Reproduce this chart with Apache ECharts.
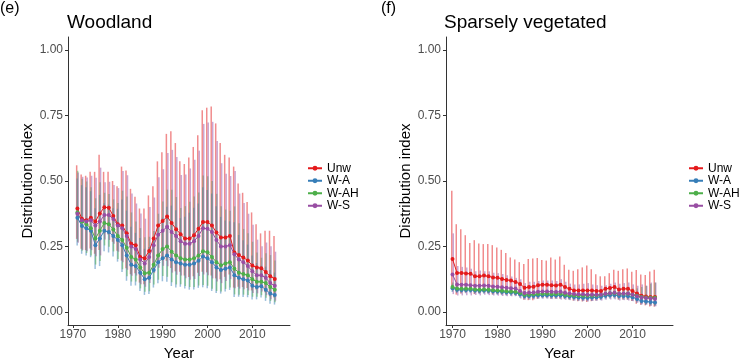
<!DOCTYPE html>
<html><head><meta charset="utf-8">
<script src="https://cdn.jsdelivr.net/npm/echarts@6/dist/echarts.min.js"></script>
<style>html,body{margin:0;padding:0;background:#fff}#c{width:741px;height:358px}</style>
</head><body><div id="c"></div>
<script>
// ---------- categories ----------
const seriesNames = ['Unw', 'W-A', 'W-AH', 'W-S'];
const xTicks = [1970, 1980, 1990, 2000, 2010];
const yTicks = [0, 0.25, 0.5, 0.75, 1];

// ---------- (e) Woodland, 1971-2015 ----------
const woodYears = [1971,1972,1973,1974,1975,1976,1977,1978,1979,1980,
  1981,1982,1983,1984,1985,1986,1987,1988,1989,1990,
  1991,1992,1993,1994,1995,1996,1997,1998,1999,2000,
  2001,2002,2003,2004,2005,2006,2007,2008,2009,2010,
  2011,2012,2013,2014,2015];

const woodUnw = [.395,.356,.35,.36,.345,.376,.40,.398,.366,.335,
  .33,.30,.26,.255,.21,.205,.233,.28,.33,.347,
  .364,.34,.316,.297,.28,.28,.293,.318,.343,.343,
  .33,.303,.284,.284,.29,.227,.217,.208,.196,.177,
  .17,.167,.152,.136,.126];
const woodUnwHi = [.56,.525,.52,.535,.535,.60,.535,.535,.50,.48,
  .555,.54,.47,.44,.395,.395,.445,.48,.575,.61,
  .68,.69,.645,.575,.565,.59,.63,.675,.77,.78,
  .785,.72,.645,.60,.59,.555,.49,.455,.42,.38,
  .335,.30,.31,.31,.29];
const woodUnwLo = [.279,.241,.236,.242,.222,.236,.299,.296,.268,.234,
  .196,.167,.144,.148,.112,.106,.122,.163,.189,.197,
  .195,.168,.155,.153,.139,.133,.136,.150,.153,.151,
  .139,.128,.125,.134,.143,.093,.096,.095,.091,.082,
  .086,.093,.075,.060,.055];

const woodWA = [.36,.328,.32,.31,.255,.28,.31,.305,.29,.275,
  .255,.215,.18,.175,.15,.125,.13,.16,.19,.205,
  .215,.20,.19,.185,.18,.18,.185,.195,.212,.205,
  .19,.17,.16,.165,.17,.14,.13,.125,.12,.10,
  .095,.098,.085,.07,.065];
const woodWAHi = [.510,.484,.476,.461,.396,.447,.415,.410,.396,.394,
  .429,.387,.325,.302,.282,.241,.248,.274,.331,.360,
  .402,.406,.388,.358,.363,.379,.398,.414,.476,.466,
  .452,.404,.363,.349,.346,.342,.294,.274,.257,.215,
  .187,.176,.173,.160,.150];
const woodWALo = [.254,.222,.215,.209,.164,.175,.232,.227,.212,.192,
  .152,.119,.100,.101,.080,.065,.068,.093,.109,.117,
  .115,.099,.093,.096,.089,.085,.086,.092,.094,.090,
  .080,.072,.070,.078,.084,.057,.058,.057,.056,.047,
  .048,.055,.042,.031,.028];

const woodWAH = [.38,.345,.335,.32,.28,.31,.34,.335,.315,.29,
  .275,.245,.21,.20,.17,.148,.15,.18,.215,.24,
  .25,.23,.215,.205,.20,.20,.205,.215,.232,.228,
  .21,.19,.178,.185,.19,.165,.15,.145,.14,.125,
  .115,.115,.11,.095,.085];
const woodWAHHi = [.539,.509,.498,.476,.434,.495,.455,.450,.430,.416,
  .463,.441,.380,.345,.320,.285,.287,.309,.375,.422,
  .467,.467,.439,.397,.404,.421,.441,.456,.521,.518,
  .500,.451,.404,.391,.386,.403,.339,.317,.300,.268,
  .227,.207,.224,.217,.196];
const woodWAHLo = [.268,.234,.225,.215,.181,.194,.254,.249,.231,.202,
  .163,.136,.116,.116,.090,.077,.079,.105,.123,.137,
  .134,.113,.105,.106,.099,.095,.095,.101,.103,.100,
  .088,.080,.078,.088,.093,.067,.066,.066,.065,.058,
  .058,.064,.054,.042,.037];

const woodWS = [.375,.35,.345,.35,.33,.345,.37,.37,.355,.33,
  .32,.29,.25,.24,.20,.185,.21,.255,.295,.31,
  .325,.305,.29,.27,.26,.26,.27,.29,.32,.318,
  .305,.275,.25,.25,.255,.22,.20,.19,.175,.155,
  .14,.14,.13,.11,.10];
const woodWSHi = [.532,.516,.513,.520,.512,.551,.495,.497,.485,.473,
  .538,.522,.452,.414,.376,.356,.401,.437,.514,.545,
  .607,.619,.592,.523,.525,.548,.581,.616,.718,.723,
  .726,.653,.568,.528,.519,.538,.452,.416,.375,.333,
  .276,.251,.265,.251,.230];
const woodWSLo = [.264,.237,.232,.236,.213,.216,.277,.275,.260,.230,
  .190,.161,.138,.139,.106,.096,.110,.149,.169,.176,
  .174,.150,.142,.139,.129,.123,.126,.137,.143,.140,
  .128,.116,.110,.118,.125,.090,.089,.087,.082,.072,
  .071,.078,.064,.048,.043];

// ---------- (f) Sparsely vegetated, 1970-2015 ----------
const sparseYears = [1970,1971,1972,1973,1974,1975,1976,1977,1978,1979,
  1980,1981,1982,1983,1984,1985,1986,1987,1988,1989,
  1990,1991,1992,1993,1994,1995,1996,1997,1998,1999,
  2000,2001,2002,2003,2004,2005,2006,2007,2008,2009,
  2010,2011,2012,2013,2014,2015];

const spUnw = [.202,.149,.149,.147,.146,.136,.136,.139,.136,.131,
  .130,.126,.122,.120,.114,.107,.092,.095,.096,.102,
  .104,.104,.102,.101,.104,.095,.088,.082,.082,.082,
  .082,.082,.080,.080,.088,.091,.095,.086,.088,.088,
  .080,.070,.062,.059,.057,.057];
const spUnwHi = [.463,.335,.316,.293,.263,.274,.261,.259,.259,.255,
  .246,.237,.225,.208,.200,.190,.183,.202,.204,.206,
  .198,.196,.208,.200,.212,.180,.161,.157,.163,.170,
  .177,.163,.144,.136,.136,.148,.161,.157,.163,.166,
  .153,.160,.143,.141,.154,.161];
const spUnwLo = [.088,.066,.070,.074,.081,.068,.071,.075,.071,.067,
  .069,.067,.066,.069,.065,.060,.046,.045,.045,.050,
  .055,.055,.050,.051,.051,.050,.048,.043,.041,.040,
  .038,.041,.044,.047,.057,.056,.056,.047,.047,.047,
  .042,.031,.027,.025,.021,.020];

const spWA = [.090,.085,.084,.084,.084,.082,.081,.082,.081,.079,
  .078,.077,.075,.074,.073,.067,.061,.061,.062,.063,
  .064,.064,.063,.063,.064,.061,.059,.057,.055,.054,
  .054,.055,.056,.058,.062,.064,.065,.061,.061,.060,
  .056,.049,.042,.040,.038,.036];
const spWAHi = [.105,.099,.098,.098,.098,.096,.095,.096,.095,.093,
  .092,.091,.089,.088,.087,.081,.075,.075,.076,.077,
  .078,.078,.077,.077,.079,.075,.073,.071,.069,.068,
  .068,.069,.070,.073,.077,.079,.080,.076,.076,.075,
  .071,.065,.060,.058,.057,.056];
const spWALo = [.076,.072,.071,.071,.071,.069,.068,.069,.068,.066,
  .065,.064,.062,.061,.060,.054,.048,.048,.049,.050,
  .051,.051,.050,.050,.050,.048,.046,.044,.042,.041,
  .041,.042,.043,.045,.048,.050,.051,.047,.047,.046,
  .042,.035,.028,.026,.024,.022];

const spWAH = [.095,.089,.088,.088,.088,.086,.085,.086,.085,.083,
  .082,.081,.079,.078,.077,.072,.066,.066,.067,.068,
  .069,.069,.068,.068,.069,.066,.064,.063,.062,.062,
  .062,.062,.063,.065,.068,.070,.071,.068,.069,.069,
  .066,.062,.057,.055,.054,.054];
const spWAHHi = [.112,.104,.103,.103,.103,.101,.100,.101,.100,.098,
  .097,.096,.094,.093,.092,.087,.080,.081,.082,.083,
  .084,.085,.084,.084,.086,.082,.080,.079,.078,.079,
  .079,.079,.080,.083,.087,.090,.092,.088,.090,.092,
  .090,.090,.095,.100,.108,.112];
const spWAHLo = [.081,.076,.075,.075,.075,.073,.072,.073,.072,.070,
  .069,.068,.066,.065,.064,.059,.054,.054,.055,.056,
  .056,.056,.055,.055,.055,.053,.051,.050,.049,.049,
  .048,.048,.049,.050,.053,.054,.055,.052,.052,.051,
  .048,.042,.034,.030,.027,.026];

const spWS = [.143,.105,.104,.104,.102,.100,.100,.101,.100,.097,
  .096,.094,.092,.090,.089,.080,.072,.073,.074,.077,
  .078,.078,.077,.076,.077,.073,.070,.068,.067,.067,
  .066,.066,.066,.066,.069,.071,.073,.069,.070,.070,
  .066,.060,.055,.053,.051,.050];
const spWSHi = [.300,.175,.172,.170,.165,.155,.158,.155,.155,.150,
  .148,.145,.140,.135,.130,.125,.110,.115,.115,.118,
  .120,.120,.120,.118,.125,.115,.108,.105,.105,.108,
  .110,.105,.102,.100,.102,.108,.112,.108,.110,.112,
  .105,.100,.105,.100,.112,.112];
const spWSLo = [.068,.063,.063,.064,.063,.065,.063,.066,.064,.063,
  .062,.061,.060,.060,.061,.051,.047,.046,.048,.050,
  .051,.051,.049,.049,.047,.046,.045,.044,.043,.042,
  .040,.042,.043,.044,.047,.047,.048,.044,.045,.044,
  .041,.036,.029,.028,.023,.022];

// ---------- styling ----------
const FONT = '"Liberation Sans", Arial, sans-serif';
const colors = {'Unw': '#E41A1C', 'W-A': '#377EB8', 'W-AH': '#4DAF4A', 'W-S': '#984EA3'};
const dodgePx = {'Unw': -0.75, 'W-A': -0.25, 'W-AH': 0.25, 'W-S': 0.75};

const panels = [
  {years: woodYears, sets: {
    'Unw': [woodUnw, woodUnwLo, woodUnwHi], 'W-A': [woodWA, woodWALo, woodWAHi],
    'W-AH': [woodWAH, woodWAHLo, woodWAHHi], 'W-S': [woodWS, woodWSLo, woodWSHi]}},
  {years: sparseYears, sets: {
    'Unw': [spUnw, spUnwLo, spUnwHi], 'W-A': [spWA, spWALo, spWAHi],
    'W-AH': [spWAH, spWAHLo, spWAHHi], 'W-S': [spWS, spWSLo, spWSHi]}}
];

const series = [];
panels.forEach((p, gi) => {
  seriesNames.forEach(name => {
    const [v, lo, hi] = p.sets[name];
    const col = colors[name];
    const dx = dodgePx[name];
    series.push({
      type: 'custom', name: name + ' interval', xAxisIndex: gi, yAxisIndex: gi,
      silent: true, z: 1,
      encode: {x: 0, y: [1, 2]},
      data: p.years.map((y, i) => [y, lo[i], hi[i]]),
      renderItem: (params, api) => {
        const a = api.coord([api.value(0), api.value(1)]);
        const b = api.coord([api.value(0), api.value(2)]);
        return {type: 'line', shape: {x1: a[0] + dx, y1: a[1], x2: b[0] + dx, y2: b[1]},
          style: {stroke: col, lineWidth: 1.5, opacity: 0.5}};
      }
    });
  });
});
panels.forEach((p, gi) => {
  seriesNames.forEach(name => {
    const v = p.sets[name][0];
    series.push({
      type: 'line', name: name, xAxisIndex: gi, yAxisIndex: gi, z: 3,
      data: p.years.map((y, i) => [y, v[i]]),
      symbol: 'circle', symbolSize: 4, showSymbol: true, showAllSymbol: true,
      lineStyle: {color: colors[name], width: 1},
      itemStyle: {color: colors[name], borderWidth: 0},
      emphasis: {disabled: true}
    });
  });
});

const gridDefs = [
  {left: 68, top: 37, width: 222, height: 288, outerBoundsMode: 'none', containLabel: false},
  {left: 446, top: 37, width: 227, height: 288, outerBoundsMode: 'none', containLabel: false}
];
const xRanges = [[1968.9, 2018.4], [1968.55, 2019.0]];

function xAxisDef(gi) {
  return {
    gridIndex: gi, type: 'value', min: xRanges[gi][0], max: xRanges[gi][1],
    axisLine: {show: true, onZero: false, lineStyle: {color: '#333', width: 1}},
    axisTick: {show: true, customValues: xTicks, length: 3, lineStyle: {color: '#333'}},
    axisLabel: {customValues: xTicks, color: '#4D4D4D', fontSize: 12, margin: 4, fontFamily: FONT,
      formatter: v => String(v)},
    splitLine: {show: false},
    name: 'Year', nameLocation: 'middle', nameGap: 18,
    nameTextStyle: {fontSize: 15, color: '#000', fontFamily: FONT}
  };
}
function yAxisDef(gi) {
  return {
    gridIndex: gi, type: 'value', min: -0.05, max: 1.05,
    axisLine: {show: true, onZero: false, lineStyle: {color: '#333', width: 1}},
    axisTick: {show: true, customValues: yTicks, length: 3, lineStyle: {color: '#333'}},
    axisLabel: {customValues: yTicks, color: '#4D4D4D', fontSize: 12, margin: 5, fontFamily: FONT,
      formatter: v => v.toFixed(2)},
    splitLine: {show: false},
    name: 'Distribution index', nameLocation: 'middle', nameGap: 26, nameRotate: 90,
    nameTextStyle: {fontSize: 15, color: '#000', fontFamily: FONT}
  };
}

function legendDef(left) {
  return {
    left: left, top: 162, orient: 'vertical', padding: 0, itemGap: 0,
    itemWidth: 14, itemHeight: 6, data: seriesNames, selectedMode: false,
    textStyle: {fontSize: 12, lineHeight: 12.5, color: '#000', fontFamily: FONT}
  };
}

function titleDef(text, left, top, size) {
  return {text: text, left: left, top: top, padding: 0,
    textStyle: {fontSize: size, fontWeight: 'normal', color: '#000', fontFamily: FONT}};
}

const chart = echarts.init(document.getElementById('c'), null, {renderer: 'canvas'});
chart.setOption({
  animation: false,
  backgroundColor: '#fff',
  title: [
    titleDef('(e)', 0, 1, 16),
    titleDef('Woodland', 67, 13, 19),
    titleDef('(f)', 381, 1, 16),
    titleDef('Sparsely vegetated', 444, 13, 19)
  ],
  legend: [legendDef(307), legendDef(688)],
  grid: gridDefs,
  xAxis: [xAxisDef(0), xAxisDef(1)],
  yAxis: [yAxisDef(0), yAxisDef(1)],
  series: series
});
</script>
</body></html>
